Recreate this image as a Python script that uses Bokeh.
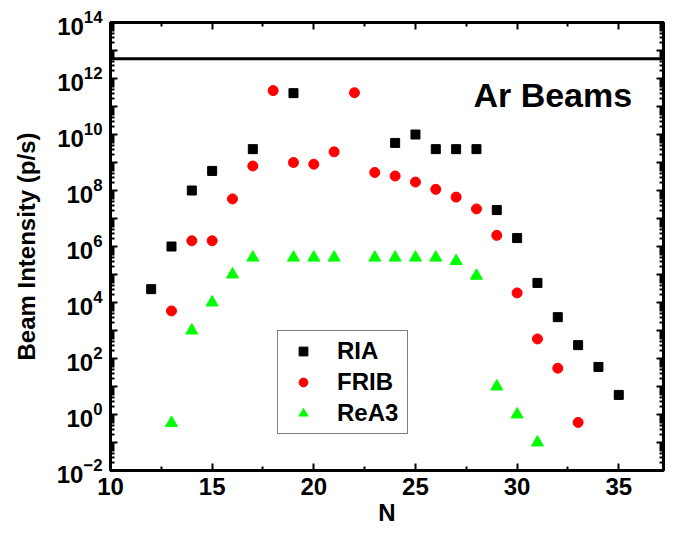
from bokeh.plotting import figure
from bokeh.models import (LogAxis, LinearAxis, FixedTicker, Span, Label,
                          Legend, LegendItem, Range1d)
from bokeh.embed import file_html
from bokeh.resources import INLINE

# ---- data ----
n_ria = [12, 13, 14, 15, 17, 19, 24, 25, 26, 27, 28, 29, 30, 31, 32, 33, 34, 35]
ria = [3e4, 1e6, 1e8, 5e8, 3e9, 3e11, 5e9, 1e10, 3e9, 3e9, 3e9, 2e7, 2e6,
       5e4, 3e3, 3e2, 50, 5]

n_frib = [13, 14, 15, 16, 17, 18, 19, 20, 21, 22, 23, 24, 25, 26, 27, 28, 29,
          30, 31, 32, 33]
frib = [5e3, 1.6e6, 1.6e6, 5e7, 7.5e8, 3.7e11, 1e9, 8.7e8, 2.4e9, 3.1e11,
        4.4e8, 3.3e8, 2e8, 1.1e8, 5.8e7, 2.2e7, 2.5e6, 2.2e4, 5e2, 45, 0.52]

n_rea3 = [13, 14, 15, 16, 17, 19, 20, 21, 23, 24, 25, 26, 27, 28, 29, 30, 31]
rea3 = [0.5, 1e3, 1e4, 1e5, 4e5, 4e5, 4e5, 4e5, 4e5, 4e5, 4e5, 4e5, 3e5,
        9e4, 10, 1, 0.1]

limit_line = 5.1e12

x_major = [10, 15, 20, 25, 30, 35]
x_minor = [12.5, 17.5, 22.5, 27.5, 32.5]
y_exps = list(range(-2, 15))
y_major = [10.0 ** k for k in y_exps]
y_minor = [m * 10.0 ** k for k in range(-2, 14) for m in range(2, 10)]
y_unlabeled = [10.0 ** k for k in y_exps if k % 2 != 0]

FONT = "Liberation Sans"

p = figure(width=665, height=537, output_backend="svg", toolbar_location=None,
           y_axis_type="log", x_range=Range1d(10, 37.2),
           y_range=Range1d(1e-2, 1e14),
           min_border_left=110, min_border_right=2, min_border_top=22,
           min_border_bottom=67)
p.grid.visible = False
p.outline_line_color = "black"
p.outline_line_width = 3
p.background_fill_color = "white"
p.border_fill_color = "white"

r1 = p.scatter(n_ria, ria, marker="square", size=9, color="black")
r2 = p.scatter(n_frib, frib, marker="circle", size=10, color="#ff0000")
r3 = p.scatter(n_rea3, rea3, marker="triangle", size=12, color="#00ff00")

p.add_layout(Span(location=limit_line, dimension="width",
                  line_color="black", line_width=3))


def style(ax):
    ax.axis_line_width = 3
    ax.axis_line_color = "black"
    ax.major_tick_in = 7
    ax.major_tick_out = 0
    ax.minor_tick_in = 4
    ax.minor_tick_out = 0
    ax.major_tick_line_width = 2
    ax.minor_tick_line_width = 2
    ax.major_label_text_font = FONT
    ax.major_label_text_font_style = "bold"
    ax.major_label_text_font_size = "24px"
    ax.major_label_text_color = "black"
    ax.axis_label_text_font = FONT
    ax.axis_label_text_font_style = "bold"
    ax.axis_label_text_font_size = "24px"
    ax.axis_label_text_color = "black"


xt = FixedTicker(ticks=x_major, minor_ticks=x_minor)
yt = FixedTicker(ticks=y_major, minor_ticks=y_minor)

xa = p.xaxis[0]
xa.ticker = xt
style(xa)
xa.axis_label = "N"
xa.major_label_standoff = 7
xa.axis_label_standoff = 1

ya = p.yaxis[0]
ya.ticker = yt
style(ya)
ya.axis_label = "Beam Intensity (p/s)"
ya.major_label_standoff = 8
ya.axis_label_standoff = 14
ya.major_label_overrides = {v: "" for v in y_unlabeled}

top = LinearAxis(ticker=xt)
style(top)
top.major_label_overrides = {v: "" for v in x_major}
top.major_label_standoff = 0
p.add_layout(top, "above")

right = LogAxis(ticker=yt)
style(right)
right.major_label_overrides = {v: "" for v in y_major}
right.major_label_standoff = 0
p.add_layout(right, "right")

p.add_layout(Label(x=27.85, y=2.6e11, text="Ar Beams", text_font=FONT,
                   text_font_style="bold", text_font_size="34px",
                   text_color="black", text_baseline="middle"))

legend = Legend(items=[LegendItem(label="RIA", renderers=[r1]),
                       LegendItem(label="FRIB", renderers=[r2]),
                       LegendItem(label="ReA3", renderers=[r3])],
                location=(167, 36))
legend.label_text_font = FONT
legend.label_text_font_style = "bold"
legend.label_text_font_size = "24px"
legend.label_text_color = "black"
legend.border_line_color = "black"
legend.border_line_width = 1
legend.padding = 6
legend.spacing = 3
legend.margin = 0
legend.glyph_width = 38
legend.glyph_height = 22
legend.label_height = 28
legend.label_width = 64
legend.label_standoff = 15
legend.background_fill_alpha = 1
p.add_layout(legend)

open("out.html", "w").write(file_html(p, INLINE))
